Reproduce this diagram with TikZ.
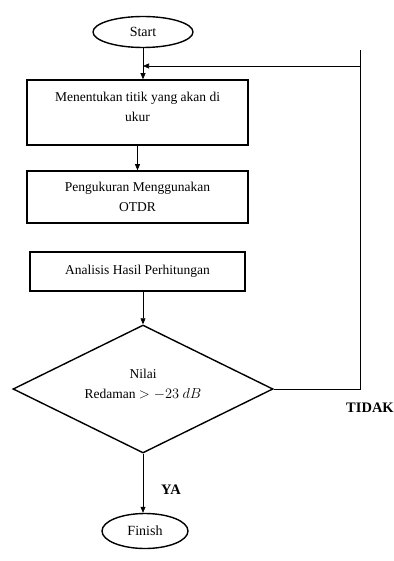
\documentclass[tikz,border=0pt]{standalone}
\usepackage{fontspec}
\setmainfont{Liberation Serif}
\usetikzlibrary{shapes.geometric, arrows.meta, positioning}

\begin{document}
\begin{tikzpicture}[
  x=1pt, y=-1pt,
  terminal/.style={draw, ellipse, line width=1.4pt, inner sep=0pt, font=\fontsize{14}{16}\selectfont},
  process/.style={draw, rectangle, line width=1.6pt, align=center, font=\fontsize{13.5}{20}\selectfont},
  decision/.style={draw, diamond, aspect=2.03, line width=1.4pt, align=center, inner sep=0pt, font=\fontsize{13.5}{20}\selectfont},
  flow/.style={-{Triangle[length=6pt, width=5pt]}, line width=0.6pt},
  loopline/.style={line width=0.6pt},
  answer/.style={font=\fontsize{14.5}{16}\selectfont\bfseries}
]
  \useasboundingbox (0,0) rectangle (393,561);

  % Nodes
  \node[terminal, minimum width=100pt, minimum height=31pt] (start) at (143, 32) {Start};
  \node[process, minimum width=221pt, minimum height=65pt] (ukur) at (137.5, 112.5) {Menentukan titik yang akan di\\ukur\\[-9pt]{}};
  \node[process, minimum width=221pt, minimum height=52pt] (otdr) at (137.5, 197) {Pengukuran Menggunakan\\OTDR};
  \node[process, minimum width=215pt, minimum height=39pt] (analisis) at (137.5, 271.5) {Analisis Hasil Perhitungan};
  \node[decision, minimum width=260pt, minimum height=128pt] (nilai) at (143, 389) {Nilai\\Redaman $> -23\ dB$\\[-9pt]{}};
  \node[terminal, minimum width=86pt, minimum height=35pt] (finish) at (145, 531) {Finish};

  % Loop corners
  \coordinate (loopbr) at (360, 389);
  \coordinate (looptop) at (360, 50);
  \coordinate (loopin) at (360, 66);

  % Connectors
  \draw[flow] (start.south) -- (start.south |- ukur.north);
  \draw[flow] (ukur.south -| otdr.north) -- (otdr.north);
  \draw[flow] (analisis.south -| nilai.north) -- (nilai.north);
  \draw[flow] (nilai.south) -- (nilai.south |- finish.north);
  \draw[loopline] (nilai.east) -- (loopbr) -- (looptop);
  \draw[flow] (loopin) -- (start.south |- loopin);

  % Answers
  \node[answer] (tidak) at (370, 408) {TIDAK};
  \node[answer] (ya) at (171, 490) {YA};
\end{tikzpicture}
\end{document}
